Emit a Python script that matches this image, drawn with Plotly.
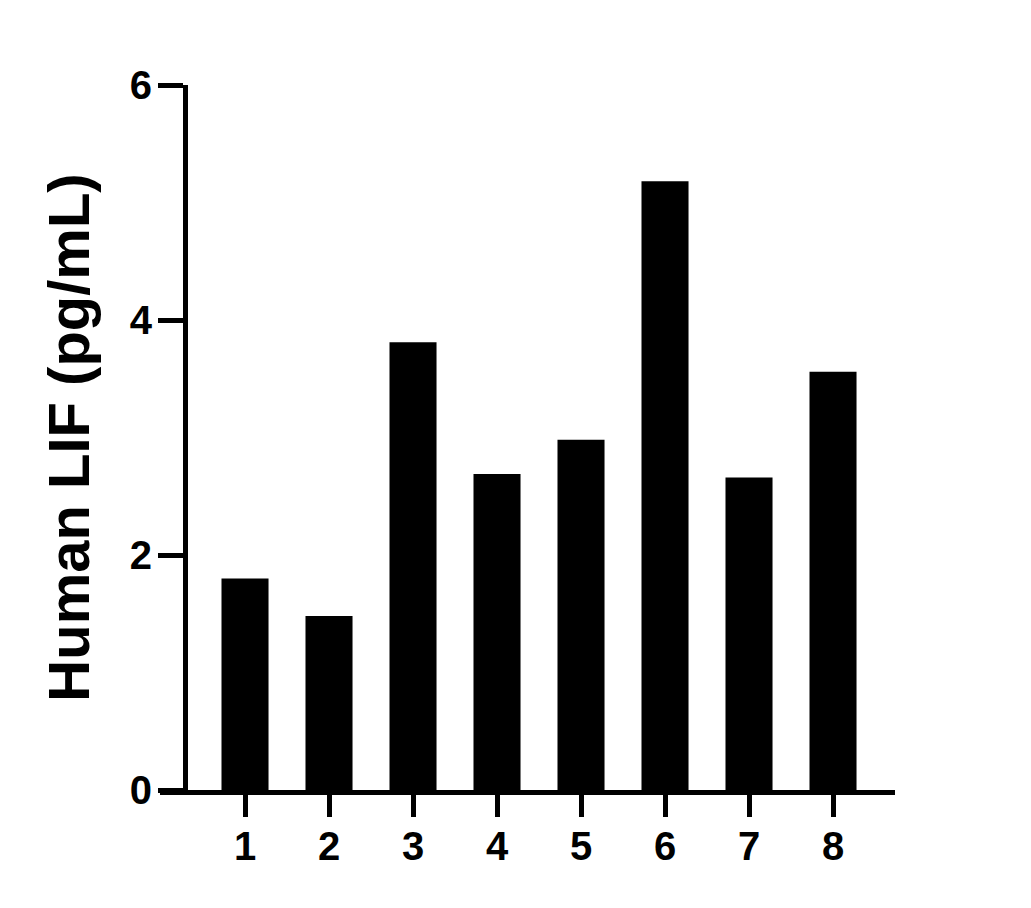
import plotly.graph_objects as go

categories = [1, 2, 3, 4, 5, 6, 7, 8]
values = [1.80, 1.48, 3.81, 2.69, 2.98, 5.18, 2.66, 3.56]
y_ticks = [0, 2, 4, 6]
x_tick_labels = ["1", "2", "3", "4", "5", "6", "7", "8"]
y_title = "Human LIF (pg/mL)"

FONT = "Liberation Sans, Arial, sans-serif"

fig = go.Figure()
fig.add_trace(go.Bar(
    x=categories, y=values, width=0.56,
    marker=dict(color="black", line=dict(width=0)),
))

# page body has an 8px offset; keep the figure inside the viewport
W, H = 1023, 900
L, R, T, B = 152, 136, 77, 118
plot_w = W - L - R

fig.update_layout(
    width=W, height=H,
    margin=dict(l=L, r=R, t=T, b=B),
    plot_bgcolor="white", paper_bgcolor="white",
    showlegend=False,
    font=dict(family=FONT, color="black", size=40, weight="bold"),
    xaxis=dict(
        range=[-0.012, 8.738],
        tickvals=categories, ticktext=x_tick_labels,
        showline=True, linewidth=5, linecolor="black",
        ticks="outside", ticklen=22, tickwidth=5, tickcolor="black",
        showgrid=False, zeroline=False,
        tickfont=dict(family=FONT, size=40, weight="bold"),
        ticklabelstandoff=-5,
    ),
    yaxis=dict(
        range=[0, 6],
        tickvals=y_ticks,
        anchor="free", position=25 / plot_w,
        showline=True, linewidth=5, linecolor="black",
        ticks="outside", ticklen=25, tickwidth=5, tickcolor="black",
        showgrid=False, zeroline=False,
        tickfont=dict(family=FONT, size=40, weight="bold"),
        ticklabelstandoff=-2,
        title=dict(text=y_title, font=dict(family=FONT, size=58, weight="bold"), standoff=20),
    ),
)

fig.write_html("out.html")
